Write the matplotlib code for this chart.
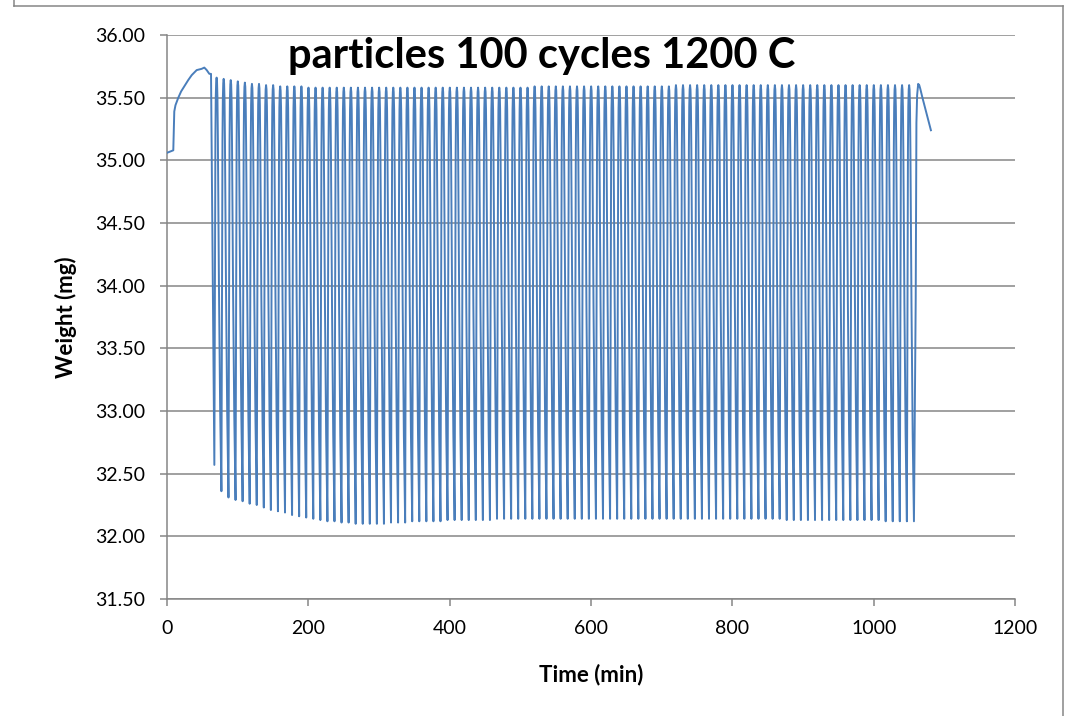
import numpy as np
import matplotlib.pyplot as plt
from matplotlib.lines import Line2D

plt.rcParams['font.family'] = ['Lato', 'DejaVu Sans']

# ── data ──────────────────────────────────────────────────────────────────
# heating ramp before the first redox cycle
lead_t = [0, 8.9, 10.3, 12, 16, 20, 25.5, 30, 35, 42, 49, 52.8, 56.2, 59.9, 62.3]
lead_w = [35.06, 35.08, 35.39, 35.44, 35.50, 35.55, 35.60, 35.64, 35.68,
          35.72, 35.73, 35.74, 35.72, 35.69, 35.69]

cycle_start = 67      # min, first trough
cycle_period = 10     # min

# trough (reduced) weight of every cycle, mg
trough_w = [32.57, 32.36, 32.31, 32.29, 32.28, 32.26, 32.25, 32.23, 32.21, 32.20,
            32.19, 32.17, 32.16, 32.15, 32.14, 32.13, 32.12, 32.12, 32.11, 32.11,
            32.10, 32.10, 32.10, 32.10, 32.10, 32.11, 32.11, 32.11, 32.12, 32.12,
            32.12, 32.12, 32.12, 32.13, 32.13, 32.13, 32.13, 32.13, 32.13, 32.13,
            32.14, 32.14, 32.14, 32.14, 32.14, 32.14, 32.14, 32.14, 32.14, 32.14,
            32.14, 32.14, 32.14, 32.14, 32.14, 32.14, 32.14, 32.14, 32.14, 32.14,
            32.14, 32.14, 32.14, 32.14, 32.14, 32.14, 32.14, 32.14, 32.14, 32.14,
            32.14, 32.14, 32.14, 32.14, 32.14, 32.14, 32.14, 32.14, 32.14, 32.14,
            32.14, 32.13, 32.13, 32.13, 32.13, 32.13, 32.13, 32.13, 32.13, 32.13,
            32.13, 32.13, 32.13, 32.13, 32.13, 32.12, 32.12, 32.12, 32.12, 32.12]

# peak (oxidised) weight between trough k and trough k+1, mg
peak_w = [35.66, 35.65, 35.64, 35.63, 35.62, 35.61, 35.61, 35.60, 35.60, 35.59,
          35.59, 35.59, 35.59, 35.58, 35.58, 35.58, 35.58, 35.58, 35.58, 35.58,
          35.58, 35.58, 35.58, 35.58, 35.58, 35.58, 35.58, 35.58, 35.58, 35.58,
          35.58, 35.58, 35.58, 35.58, 35.58, 35.58, 35.58, 35.58, 35.58, 35.58,
          35.58, 35.58, 35.58, 35.58, 35.58, 35.59, 35.59, 35.59, 35.59, 35.59,
          35.59, 35.59, 35.59, 35.59, 35.59, 35.59, 35.59, 35.59, 35.59, 35.59,
          35.59, 35.59, 35.59, 35.59, 35.59, 35.60, 35.60, 35.60, 35.60, 35.60,
          35.60, 35.60, 35.60, 35.60, 35.60, 35.60, 35.60, 35.60, 35.60, 35.60,
          35.60, 35.60, 35.60, 35.60, 35.60, 35.60, 35.60, 35.60, 35.60, 35.60,
          35.60, 35.60, 35.60, 35.60, 35.60, 35.60, 35.60, 35.60, 35.60]

# shape of one cycle as read from the spikes (min after trough, share of swing)
shape_dt = [0.8, 1.5, 2.0, 2.6, 3.2, 3.8, 4.4, 5.0, 6.5, 8.2]
shape_fr = [0.5, 0.85, 0.95, 0.99, 1.0, 0.99, 0.95, 0.85, 0.5, 0.2]
shape_top = 3.2

# cooling after the last cycle
tail_t = [1059.5, 1060.5, 1061.5, 1063, 1064.5, 1066, 1069, 1075, 1081]
tail_w = [33.9, 35.3, 35.52, 35.61, 35.60, 35.57, 35.50, 35.37, 35.24]

# ── build the trace ──────────────────────────────────────────────────────
t = list(lead_t)
w = list(lead_w)
for k, tw in enumerate(trough_w):
    t0 = cycle_start + k * cycle_period
    t.append(t0)
    w.append(tw)
    if k < len(peak_w):
        for dt, fr in zip(shape_dt, shape_fr):
            base = tw if dt <= shape_top else trough_w[k + 1]
            t.append(t0 + dt)
            w.append(base + fr * (peak_w[k] - base))
t += tail_t
w += tail_w

# ── figure ───────────────────────────────────────────────────────────────
fig = plt.figure(figsize=(10.67, 7.16), dpi=100)
ax = fig.add_axes([167 / 1067, 1 - 599 / 716, 848 / 1067, 564 / 716])

grid_c = '#868686'
ax.plot(t, w, color='#4A7EBB', lw=1.4, zorder=3)

ax.set_xlim(0, 1200)
ax.set_ylim(31.5, 36.0)
ax.set_xticks(np.arange(0, 1201, 200))
ax.set_yticks(np.arange(31.5, 36.01, 0.5))
ax.set_yticklabels([f'{v:.2f}' for v in np.arange(31.5, 36.01, 0.5)])
ax.yaxis.grid(True, color=grid_c, lw=1.1)
ax.set_axisbelow(True)

for s in ['top', 'right']:
    ax.spines[s].set_visible(False)
for s in ['left', 'bottom']:
    ax.spines[s].set_color(grid_c)
    ax.spines[s].set_linewidth(1.1)
ax.tick_params(axis='both', colors=grid_c, length=5, width=1.1,
               labelsize=14, labelcolor='black')
ax.tick_params(axis='y', pad=11)
ax.tick_params(axis='x', pad=10)

ax.set_xlabel('Time (min)', fontsize=16, fontweight='bold', labelpad=19)
ax.set_ylabel('Weight (mg)', fontsize=16, fontweight='bold', labelpad=13)

fig.text(542 / 1067, 1 - 56 / 716, 'particles 100 cycles 1200 C',
         fontsize=30, fontweight='bold', ha='center', va='center')

# chart-area border
for xs, ys in [([14, 14], [-5, 5.5]), ([14, 1063], [5.5, 5.5]), ([1063, 1063], [5.5, 720])]:
    fig.add_artist(Line2D([x / 1067 for x in xs], [1 - y / 716 for y in ys],
                          color='#868686', lw=1.1))

plt.savefig('out.png', dpi=100)
